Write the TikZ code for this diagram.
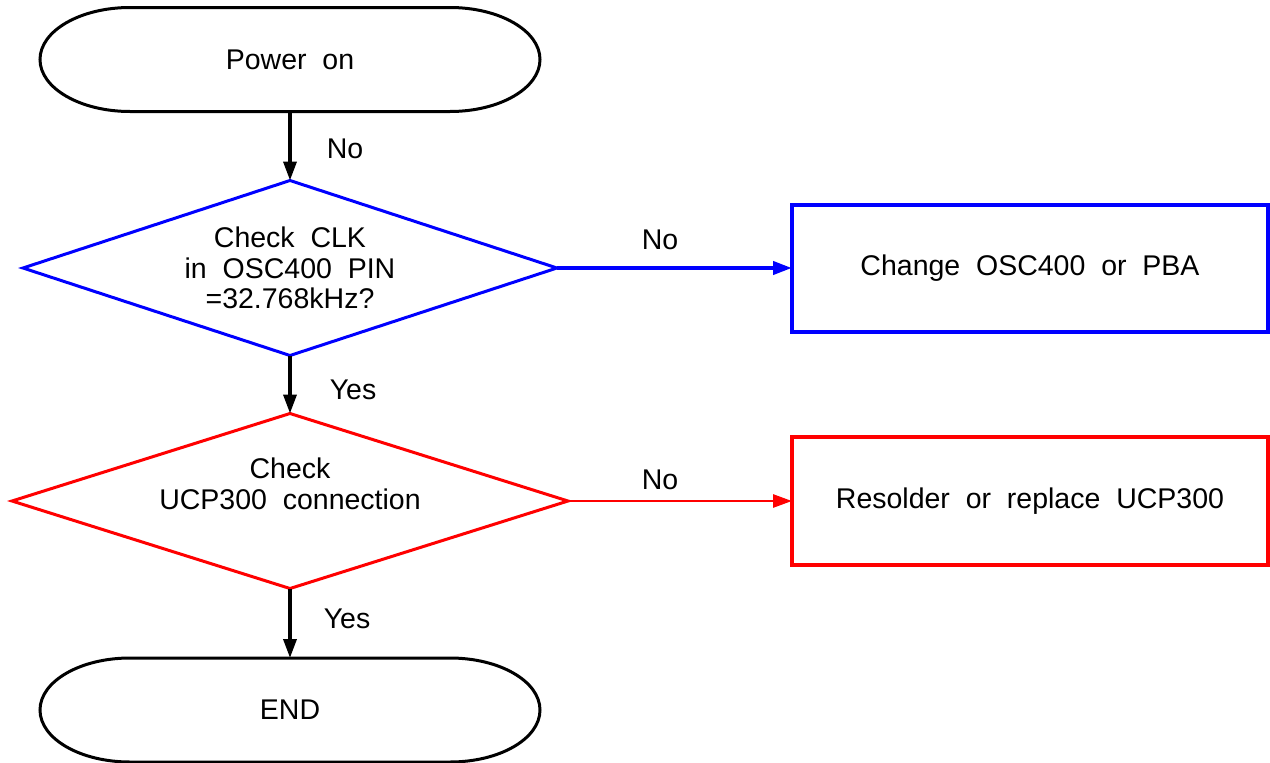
\documentclass[tikz,border=0pt]{standalone}
\usepackage{fontspec}
\setmainfont{Liberation Sans}
\usetikzlibrary{shapes.geometric,arrows.meta}
\definecolor{fblue}{RGB}{0,0,255}
\definecolor{fred}{RGB}{255,0,0}
\begin{document}
\begin{tikzpicture}[x=1pt,y=-1pt,
  every node/.style={font=\fontsize{28.5}{30.5}\selectfont, inner sep=0pt, outer sep=0pt},
  term/.style={minimum width=500pt, minimum height=104pt},
  termline/.style={line width=3pt},
  dec/.style={diamond, draw, line width=3pt},
  proc/.style={rectangle, draw, line width=4pt, minimum width=476pt, minimum height=127pt},
  conn/.style={line width=3.5pt, -{Triangle[length=19pt,width=13pt]}},
  lbl/.style={}]
\useasboundingbox (0,0) rectangle (1270,763);

% Terminals
\node[term] (pwr) at (290,59.5) {Power~~on};
\draw[termline] ([xshift=90pt]pwr.north west) -- ([xshift=-90pt]pwr.north east)
  arc[start angle=90,end angle=-90,x radius=90pt,y radius=52pt]
  -- ([xshift=90pt]pwr.south west)
  arc[start angle=270,end angle=90,x radius=90pt,y radius=52pt] -- cycle;

\node[term] (endn) at (290,710) {END};
\draw[termline] ([xshift=90pt]endn.north west) -- ([xshift=-90pt]endn.north east)
  arc[start angle=90,end angle=-90,x radius=90pt,y radius=52pt]
  -- ([xshift=90pt]endn.south west)
  arc[start angle=270,end angle=90,x radius=90pt,y radius=52pt] -- cycle;

% Decisions
\node[dec, draw=fblue, minimum width=534pt, minimum height=175pt] (d1) at (290,268) {};
\node[align=center] (d1t) at (d1) {Check~~CLK\\in~~OSC400~~PIN\\=32.768kHz?};

\node[dec, draw=fred, minimum width=556pt, minimum height=175pt] (d2) at (290,501) {};
\node[align=center] (d2t) at (290,484) {Check\\UCP300~~connection};

% Processes
\node[proc, draw=fblue] (b1) at (1030,268) {Change~~OSC400~~or~~PBA};
\node[proc, draw=fred, minimum height=128pt] (b2) at (1030,501) {Resolder~~or~~replace~~UCP300};

% Connectors
\draw[conn] (pwr.south) -- (d1.north);
\draw[conn] (d1.south) -- (d2.north);
\draw[conn] (d2.south) -- (endn.north);
\draw[conn, draw=fblue, fill=fblue, line width=4pt] (d1.east) -- (b1.west);
\draw[conn, draw=fred, fill=fred, line width=2.7pt] (d2.east) -- (b2.west);

% Labels
\node[lbl] (l1) at (345,149) {No};
\node[lbl] (l2) at (660,240) {No};
\node[lbl] (l3) at (353,390) {Yes};
\node[lbl] (l4) at (660,480) {No};
\node[lbl] (l5) at (347,619) {Yes};
\end{tikzpicture}
\end{document}
